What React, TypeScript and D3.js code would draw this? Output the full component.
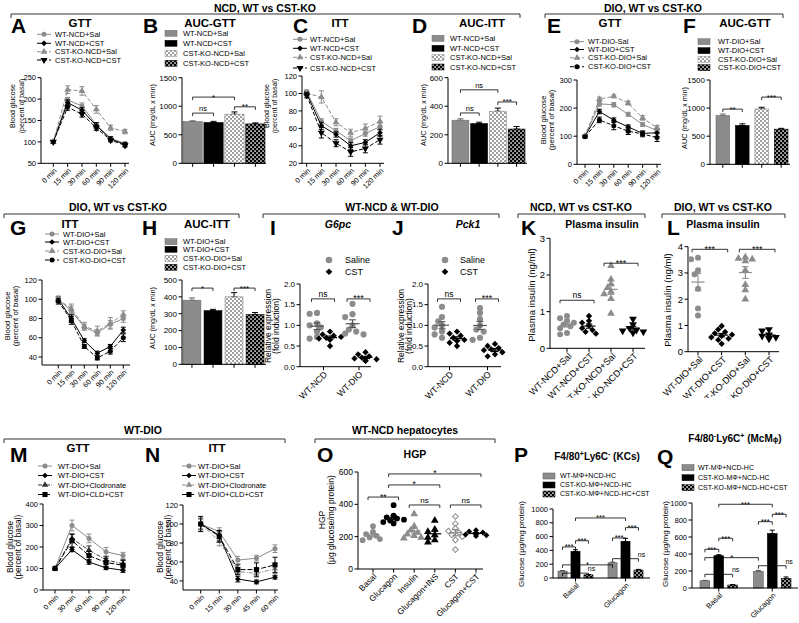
import React from 'react';
import * as d3 from 'd3';

const FONT = "'Liberation Sans', Arial, Helvetica, sans-serif";
const GREY = '#8c8c8c';
const BLACK = '#000000';

/* ===================== DATA ===================== */
const timesGTT6 = ['0 min', '15 min', '30 min', '60 min', '90 min', '120 min'];
const timesGTT5 = ['0 min', '30 min', '60 min', '90 min', '120 min'];
const timesITT5 = ['0 min', '15 min', '30 min', '45 min', '60 min'];

const legendNCD = ['WT-NCD+Sal', 'WT-NCD+CST', 'CST-KO-NCD+Sal', 'CST-KO-NCD+CST'];
const legendDIOE = ['WT-DIO-Sal', 'WT-DIO+CST', 'CST-KO-DIO+Sal', 'CST-KO-DIO+CST'];
const legendDIO = ['WT-DIO+Sal', 'WT-DIO+CST', 'CST-KO-DIO+Sal', 'CST-KO-DIO+CST'];
const legendCLD = ['WT-DIO+Sal', 'WT-DIO+CST', 'WT-DIO+Clodronate', 'WT-DIO+CLD+CST'];
const legendMac = ['WT-MΦ+NCD-HC', 'CST-KO-MΦ+NCD-HC', 'CST-KO-MΦ+NCD-HC+CST'];

// A: NCD GTT
const aWtSal = [100, 198, 184, 140, 108, 96];
const aWtSalErr = [3, 6, 7, 5, 4, 4];
const aWtCst = [100, 192, 174, 138, 107, 94];
const aWtCstErr = [3, 6, 6, 7, 5, 4];
const aKoSal = [100, 222, 219, 176, 133, 124];
const aKoSalErr = [3, 9, 10, 9, 6, 5];
const aKoCst = [100, 181, 165, 133, 104, 92];
const aKoCstErr = [3, 7, 7, 6, 4, 4];

// C: NCD ITT
const cWtSal = [102, 68, 57, 46, 54, 62];
const cWtSalErr = [2, 3, 3, 3, 3, 4];
const cWtCst = [100, 63, 53, 40, 44, 55];
const cWtCstErr = [2, 4, 3, 4, 3, 4];
const cKoSal = [100, 96, 67, 55, 60, 68];
const cKoSalErr = [3, 7, 4, 4, 5, 6];
const cKoCst = [98, 55, 43, 33, 37, 47];
const cKoCstErr = [3, 6, 4, 5, 5, 5];

// E: DIO GTT
const eWtSal = [100, 215, 212, 178, 142, 120];
const eWtSalErr = [4, 8, 8, 7, 7, 8];
const eWtCst = [100, 188, 157, 133, 110, 112];
const eWtCstErr = [4, 8, 8, 7, 8, 14];
const eKoSal = [100, 232, 242, 218, 165, 130];
const eKoSalErr = [4, 7, 5, 7, 8, 8];
const eKoCst = [98, 158, 137, 118, 108, 95];
const eKoCstErr = [4, 10, 14, 12, 10, 14];

// G: DIO ITT
const gWtSal = [100, 88, 71, 65, 74, 80];
const gWtSalErr = [3, 5, 3, 3, 4, 4];
const gWtCst = [100, 80, 57, 44, 51, 68];
const gWtCstErr = [3, 4, 2, 2, 2, 3];
const gKoSal = [100, 90, 72, 67, 75, 84];
const gKoSalErr = [3, 5, 4, 5, 6, 4];
const gKoCst = [98, 78, 51, 39, 46, 60];
const gKoCstErr = [3, 4, 2, 2, 3, 4];

// M: WT-DIO GTT
const mSal = [100, 300, 240, 178, 160];
const mSalErr = [0, 25, 20, 20, 15];
const mCst = [100, 188, 130, 103, 92];
const mCstErr = [0, 10, 10, 8, 10];
const mCld = [100, 240, 185, 140, 122];
const mCldErr = [0, 20, 20, 15, 15];
const mCldCst = [100, 230, 160, 128, 115];
const mCldCstErr = [0, 30, 20, 20, 25];

// N: WT-DIO ITT
const nSal = [100, 92, 62, 64, 74];
const nSalErr = [5, 4, 4, 3, 4];
const nCst = [100, 88, 42, 39, 44];
const nCstErr = [6, 5, 3, 2, 2];
const nCld = [100, 82, 50, 48, 53];
const nCldErr = [6, 5, 4, 4, 5];
const nCldCst = [100, 87, 52, 52, 57];
const nCldCstErr = [8, 6, 5, 7, 8];

// Bars
const bVals = [730, 715, 860, 690];
const bErrs = [15, 20, 40, 18];
const dVals = [302, 278, 365, 240];
const dErrs = [10, 10, 22, 18];
const fVals = [865, 690, 985, 625];
const fErrs = [30, 30, 30, 15];
const hVals = [380, 318, 400, 295];
const hErrs = [14, 8, 25, 12];

const bSigs = [{ a: 0, b: 2, v: 1160, t: '*' }, { a: 0, b: 1, v: 880, t: 'ns' }, { a: 2, b: 3, v: 990, t: '**' }];
const dSigs = [{ a: 0, b: 2, v: 515, t: 'ns' }, { a: 0, b: 1, v: 353, t: 'ns' }, { a: 2, b: 3, v: 430, t: '***' }];
const fSigs = [{ a: 0, b: 1, v: 982, t: '**' }, { a: 2, b: 3, v: 1196, t: '***' }];
const hSigs = [{ a: 0, b: 1, v: 452, t: '*' }, { a: 2, b: 3, v: 452, t: '***' }];

// I: G6pc, J: Pck1
const exprCats = ['WT-NCD', 'WT-DIO'];
const exprLegend = ['Saline', 'CST'];
const iNcdSal = [1.3, 1.28, 1.05, 1.0, 0.95, 0.85, 0.72, 0.68];
const iNcdCst = [0.85, 0.78, 0.75, 0.72, 0.7, 0.68, 0.65, 0.5];
const iDioSal = [1.52, 1.27, 1.2, 1.0, 0.9, 0.85, 0.8, 0.78];
const iDioCst = [0.35, 0.3, 0.25, 0.22, 0.2, 0.18, 0.15, 0.14];
const jNcdSal = [1.45, 1.2, 1.1, 1.0, 0.95, 0.85, 0.78, 0.7];
const jNcdCst = [0.85, 0.8, 0.75, 0.7, 0.65, 0.62, 0.58, 0.5];
const jDioSal = [1.42, 1.3, 1.15, 1.0, 0.9, 0.85, 0.7, 0.65];
const jDioCst = [0.55, 0.5, 0.45, 0.42, 0.4, 0.35, 0.3, 0.25];
const ijSigs = [{ cat: 0, v: 1.64, t: 'ns' }, { cat: 1, v: 1.64, t: '***' }];

// K, L: plasma insulin
const kCats = ['WT-NCD+Sal', 'WT-NCD+CST', 'CST-KO-NCD+Sal', 'CST-KO-NCD+CST'];
const kWtSal = [0.88, 0.82, 0.75, 0.7, 0.65, 0.6, 0.55, 0.42, 0.38];
const kWtCst = [0.88, 0.75, 0.7, 0.62, 0.55, 0.5, 0.45, 0.4];
const kKoSal = [2.25, 1.88, 1.75, 1.65, 1.55, 1.48, 1.35, 0.95];
const kKoCst = [0.8, 0.65, 0.55, 0.5, 0.48, 0.45, 0.42];
const kSigs = [{ a: 0, b: 1, v: 1.31, t: 'ns' }, { a: 2, b: 3, v: 2.32, t: '***' }];
const lCats = ['WT-DIO+Sal', 'WT-DIO+CST', 'CST-KO-DIO+Sal', 'CST-KO-DIO+CST'];
const lWtSal = [3.58, 3.52, 3.1, 2.95, 2.4, 1.65, 1.38];
const lWtCst = [0.98, 0.85, 0.75, 0.7, 0.65, 0.6, 0.55, 0.5, 0.45, 0.3];
const lKoSal = [3.6, 3.55, 3.52, 3.45, 3.1, 2.55, 2.35, 2.0];
const lKoCst = [0.85, 0.8, 0.65, 0.6, 0.55, 0.5, 0.5];
const lSigs = [{ a: 0, b: 1, v: 3.9, t: '***' }, { a: 2, b: 3, v: 3.9, t: '***' }];

// O: HGP
const oCats = ['Basal', 'Glucagon', 'Insulin', 'Glucagon+INS', 'CST', 'Glucagon+CST'];
const oBasal = [265, 230, 215, 205, 195, 185, 178];
const oGlucagon = [395, 330, 320, 312, 305, 300, 290, 282];
const oInsulin = [340, 265, 240, 225, 215, 205, 195, 190];
const oGlucIns = [300, 245, 230, 210, 195, 180, 165];
const oCst = [325, 280, 250, 235, 225, 210, 200, 180, 120];
const oGlucCst = [240, 232, 226, 222, 218, 213, 208, 204];
const oSigs = [
  { a: 0, b: 1, v: 445, t: '**' }, { a: 1, b: 3, v: 520, t: '*' }, { a: 1, b: 5, v: 588, t: '*' },
  { a: 2, b: 3, v: 396, t: 'ns' }, { a: 4, b: 5, v: 396, t: 'ns' },
];

// P, Q: macrophage co-culture
const macGroups = ['Basal', 'Glucagon'];
const pVals = [[100, 385, 45], [220, 530, 115]];
const pErrs = [[8, 25, 5], [10, 45, 10]];
const pSigs = [
  { a: [0, 1], b: [1, 1], v: 870, t: '***' }, { a: [0, 0], b: [0, 1], v: 450, t: '***' },
  { a: [0, 1], b: [0, 2], v: 540, t: '***' }, { a: [0, 0], b: [1, 0], v: 190, t: '*' },
  { a: [0, 0], b: [0, 2], v: 70, t: 'ns', right: true }, { a: [1, 0], b: [1, 2], v: 280, t: 'ns', right: true },
  { a: [1, 0], b: [1, 1], v: 580, t: '***' }, { a: [1, 1], b: [1, 2], v: 730, t: '***' },
];
const qVals = [[85, 380, 35], [195, 640, 110]];
const qErrs = [[5, 12, 5], [12, 40, 20]];
const qSigs = [
  { a: [0, 1], b: [1, 1], v: 985, t: '***' }, { a: [0, 0], b: [0, 1], v: 455, t: '***' },
  { a: [0, 1], b: [0, 2], v: 585, t: '***' }, { a: [0, 0], b: [1, 0], v: 357, t: '*' },
  { a: [0, 0], b: [0, 2], v: 161, t: 'ns', right: true }, { a: [1, 0], b: [1, 2], v: 262, t: 'ns', right: true },
  { a: [1, 0], b: [1, 1], v: 780, t: '***' }, { a: [1, 1], b: [1, 2], v: 867, t: '***' },
];

/* ===================== STYLES ===================== */
type Mk = 'circle' | 'diamond' | 'triUp' | 'triDown' | 'square';
const stGreyCircle = { color: GREY, dash: '', marker: 'circle' as Mk, msize: 20 };
const stBlackDiamond = { color: BLACK, dash: '', marker: 'diamond' as Mk, msize: 16 };
const stGreyTri = { color: GREY, dash: '4,2', marker: 'triUp' as Mk, msize: 20 };
const stBlackTriDown = { color: BLACK, dash: '4,2', marker: 'triDown' as Mk, msize: 22 };
const stBlackCircleDash = { color: BLACK, dash: '4,2', marker: 'circle' as Mk, msize: 20 };
const stDarkTriDashDot = { color: '#333333', dash: '4,1.5,1,1.5', marker: 'triUp' as Mk, msize: 18 };
const stGreyTriDashDot = { color: GREY, dash: '4,1.5,1,1.5', marker: 'triUp' as Mk, msize: 18 };
const stBlackSquareDash = { color: BLACK, dash: '5,2', marker: 'square' as Mk, msize: 26 };

/* ===================== PRIMITIVES ===================== */
const symType: Record<Mk, any> = {
  circle: d3.symbolCircle, diamond: d3.symbolSquare, triUp: d3.symbolTriangle,
  triDown: d3.symbolTriangle, square: d3.symbolSquare,
};
function Marker({ m, x, y, size, fill, stroke }: any) {
  const d = d3.symbol(symType[m as Mk], size)() as string;
  const rot = m === 'triDown' ? ' rotate(180)' : m === 'diamond' ? ' rotate(45)' : '';
  return (
    <path d={d} transform={`translate(${x},${y})${rot}`} fill={fill}
      stroke={stroke || 'none'} strokeWidth={stroke ? 1 : 0} />
  );
}
function ErrBar({ x, y1, y2, w, color, sw = 1 }: any) {
  return (
    <g stroke={color} strokeWidth={sw}>
      <line x1={x} x2={x} y1={y1} y2={y2} />
      <line x1={x - w} x2={x + w} y1={y1} y2={y1} />
      <line x1={x - w} x2={x + w} y1={y2} y2={y2} />
    </g>
  );
}
function Sig({ x1, x2, y, t, fs = 7.5, right = false }: any) {
  const star = t.startsWith('*');
  const tx = right ? x2 + 3 : (x1 + x2) / 2;
  return (
    <g>
      <path d={`M${x1},${y + 3}V${y}H${x2}V${y + 3}`} fill="none" stroke={BLACK} strokeWidth={0.8} />
      <text x={tx} y={star ? y + 2.5 : y - 2} textAnchor="middle" fontSize={star ? fs + 0.5 : fs}>{t}</text>
    </g>
  );
}
function Letter({ x, y, t }: any) {
  return <text x={x} y={y} fontSize={21} fontWeight="bold">{t}</text>;
}
function Title({ x, y, t, fs = 11.5, italic = false }: any) {
  return <text x={x} y={y} textAnchor="middle" fontSize={fs} fontWeight="bold" fontStyle={italic ? 'italic' : 'normal'}>{t}</text>;
}
function YLabel({ lines, xs, cy, fs }: any) {
  return (
    <g>
      {lines.map((l: string, i: number) => (
        <text key={i} transform={`translate(${xs[i]},${cy}) rotate(-90)`} textAnchor="middle" dy="0.35em" fontSize={fs}>{l}</text>
      ))}
    </g>
  );
}
function YAxis({ x, y, ticks, fs, fmt }: any) {
  const [r0, r1] = y.range();
  const f = fmt ? d3.format(fmt) : (v: number) => String(v);
  return (
    <g>
      <line x1={x} x2={x} y1={r0} y2={r1} stroke={BLACK} strokeWidth={1} />
      {ticks.map((t: number) => (
        <g key={t}>
          <line x1={x - 3.5} x2={x} y1={y(t)} y2={y(t)} stroke={BLACK} strokeWidth={1} />
          <text x={x - 5} y={y(t)} dy="0.35em" textAnchor="end" fontSize={fs}>{f(t)}</text>
        </g>
      ))}
    </g>
  );
}
function RotLabels({ items, yb, fs, dx = 2, dy = 6 }: any) {
  return (
    <g>
      {items.map((it: any, i: number) => (
        <text key={i} transform={`translate(${it.x + dx},${yb + dy}) rotate(-45)`} textAnchor="end" dy="0.35em" fontSize={fs}>{it.t}</text>
      ))}
    </g>
  );
}
function Header({ t, cx, ty, x1, x2, ly }: any) {
  return (
    <g>
      <text x={cx} y={ty} textAnchor="middle" fontSize={10.5} fontWeight="bold">{t}</text>
      <path d={`M${x1},${ly + 4}V${ly}H${x2}V${ly + 4}`} fill="none" stroke="#333" strokeWidth={1} />
    </g>
  );
}

/* ===================== LINE PANEL ===================== */
function LinePanel({ L, cats, series }: any) {
  const y = d3.scaleLinear().domain(L.yDomain).range([L.yBottom, L.yTop]);
  const x = d3.scalePoint<string>().domain(cats).range([L.x0, L.x1]);
  const lineGen = d3.line<number>().x((_, i) => x(cats[i]) as number).y((d) => y(d));
  return (
    <g>
      <Letter x={L.letterX} y={L.letterY} t={L.letter} />
      <Title x={L.titleX} y={L.titleY} t={L.title} />
      {series.map((s: any, i: number) => {
        const ly = L.legRows[i];
        return (
          <g key={'lg' + i}>
            <line x1={L.legX} x2={L.legX + 14} y1={ly} y2={ly} stroke={s.color} strokeDasharray={s.dash} strokeWidth={1} />
            <Marker m={s.marker} x={L.legX + 7} y={ly} size={s.msize} fill={s.color} />
            <text x={L.legTextX} y={ly} dy="0.35em" fontSize={L.legFs}>{s.label}</text>
          </g>
        );
      })}
      <YLabel lines={L.ylab} xs={L.ylabX} cy={L.ylabY} fs={L.ylabFs} />
      <YAxis x={L.axisX} y={y} ticks={L.yTicks} fs={L.tickFs} />
      <line x1={L.axisX} x2={L.xEnd} y1={L.yBottom} y2={L.yBottom} stroke={BLACK} strokeWidth={1} />
      {cats.map((c: string) => (
        <line key={c} x1={x(c)} x2={x(c)} y1={L.yBottom} y2={L.yBottom + 3.5} stroke={BLACK} strokeWidth={1} />
      ))}
      <RotLabels items={cats.map((c: string) => ({ x: x(c) as number, t: c }))} yb={L.yBottom} fs={L.xlabFs} />
      {series.map((s: any, i: number) => (
        <g key={'s' + i}>
          <path d={lineGen(s.values) as string} fill="none" stroke={s.color} strokeDasharray={s.dash} strokeWidth={1} />
          {s.values.map((v: number, j: number) => (
            <g key={j}>
              {s.errs[j] > 0 && <ErrBar x={x(cats[j])} y1={y(v - s.errs[j])} y2={y(v + s.errs[j])} w={2.5} color={s.color} />}
              <Marker m={s.marker} x={x(cats[j])} y={y(v)} size={s.msize} fill={s.color} />
            </g>
          ))}
        </g>
      ))}
    </g>
  );
}

/* ===================== BAR PANEL ===================== */
const barFills = [GREY, BLACK, 'url(#chkLight)', 'url(#chkDark)'];
const barStrokes = ['#6a6a6a', BLACK, '#8a8a8a', BLACK];
function BarPanel({ L, labels, values, errs, sigs }: any) {
  const y = d3.scaleLinear().domain([0, L.yMax]).range([L.yBottom, L.yTop]);
  const x = d3.scaleBand<string>().domain(labels).range([L.bx0, L.bx1]).paddingInner(L.pad);
  const bw = x.bandwidth();
  const cx = (i: number) => (x(labels[i]) as number) + bw / 2;
  return (
    <g>
      <Letter x={L.letterX} y={L.letterY} t={L.letter} />
      <Title x={L.titleX} y={L.titleY} t={L.title} />
      {labels.map((l: string, i: number) => (
        <g key={'lg' + i}>
          <rect x={L.legSwX} y={L.legRows[i] - 3} width={12} height={6} fill={barFills[i]} stroke={barStrokes[i]} strokeWidth={0.5} />
          <text x={L.legTextX} y={L.legRows[i]} dy="0.35em" fontSize={7.5}>{l}</text>
        </g>
      ))}
      <YLabel lines={[L.ylab]} xs={[L.ylabX]} cy={L.ylabY} fs={7.3} />
      {values.map((v: number, i: number) => (
        <g key={'b' + i}>
          <ErrBar x={cx(i)} y1={y(v)} y2={y(v + errs[i])} w={3} color={i === 0 ? '#6a6a6a' : BLACK} />
          <rect x={x(labels[i])} y={y(v)} width={bw} height={L.yBottom - y(v)} fill={barFills[i]} stroke={barStrokes[i]} strokeWidth={0.6} />
        </g>
      ))}
      <YAxis x={L.axisX} y={y} ticks={L.yTicks} fs={8} />
      <line x1={L.axisX} x2={L.xEnd} y1={L.yBottom} y2={L.yBottom} stroke={BLACK} strokeWidth={1} />
      {labels.map((l: string, i: number) => (
        <line key={'t' + i} x1={cx(i)} x2={cx(i)} y1={L.yBottom} y2={L.yBottom + 3.5} stroke={BLACK} strokeWidth={1} />
      ))}
      {sigs.map((s: any, i: number) => (
        <Sig key={'sg' + i} x1={cx(s.a)} x2={cx(s.b)} y={y(s.v)} t={s.t} />
      ))}
    </g>
  );
}

/* ===================== SCATTER PANEL ===================== */
function swarm(vals: number[], y: any, r: number): number[] {
  const placed: { x: number; y: number }[] = [];
  const cands = [0, -1, 1, -2, 2, -3, 3];
  return vals.map((v) => {
    const py = y(v);
    for (const c of cands) {
      const px = c * r * 1.15;
      if (placed.every((p) => Math.hypot(p.x - px, p.y - py) >= r * 1.5)) {
        placed.push({ x: px, y: py });
        return px;
      }
    }
    placed.push({ x: 0, y: py });
    return 0;
  });
}
function ScatterPanel({ L, cats, groups, sigs, legend, catLabels }: any) {
  const y = d3.scaleLinear().domain(L.yDomain).range([L.yBottom, L.yTop]);
  const x = d3.scalePoint<string>().domain(cats).range([L.px0, L.px1]);
  return (
    <g>
      <Letter x={L.letterX} y={L.letterY} t={L.letter} />
      <Title x={L.titleX} y={L.titleY} t={L.title} italic={L.italic} fs={L.titleFs} />
      {legend && legend.map((lg: any, i: number) => (
        <g key={'lg' + i}>
          <Marker m={lg.marker} x={L.legSymX} y={L.legRows[i]} size={lg.msize} fill={lg.color} />
          <text x={L.legTextX} y={L.legRows[i]} dy="0.35em" fontSize={L.fs}>{lg.label}</text>
        </g>
      ))}
      <YLabel lines={L.ylab} xs={L.ylabX} cy={L.ylabY} fs={L.ylabFs} />
      <YAxis x={L.axisX} y={y} ticks={L.yTicks} fs={L.tickFs || L.fs} fmt={L.fmt} />
      <line x1={L.axisX} x2={L.xEnd} y1={L.yBottom} y2={L.yBottom} stroke={BLACK} strokeWidth={1} />
      {cats.map((c: string) => (
        <line key={c} x1={x(c)} x2={x(c)} y1={L.yBottom} y2={L.yBottom + 3.5} stroke={BLACK} strokeWidth={1} />
      ))}
      <g clipPath={L.clip ? `url(#${L.clip})` : undefined}>
        <RotLabels items={cats.map((c: string, i: number) => ({ x: x(c) as number, t: catLabels ? catLabels[i] : c }))} yb={L.yBottom} fs={L.xlabFs} dx={L.xlabDx} />
      </g>
      {groups.map((g: any, gi: number) => {
        const gx = (x(g.cat) as number) + g.off;
        const sorted = [...g.values].sort((a: number, b: number) => b - a);
        const offs = swarm(sorted, y, L.pr);
        const mean = d3.mean(g.values) as number;
        const sem = (d3.deviation(g.values) as number) / Math.sqrt(g.values.length);
        return (
          <g key={'g' + gi}>
            {sorted.map((v: number, k: number) => (
              <Marker key={k} m={g.marker} x={gx + offs[k]} y={y(v)} size={g.msize} fill={g.fill} stroke={g.stroke} />
            ))}
            <line x1={gx - L.meanW} x2={gx + L.meanW} y1={y(mean)} y2={y(mean)} stroke={g.lineColor} strokeWidth={1.2} />
            <ErrBar x={gx} y1={y(mean - sem)} y2={y(mean + sem)} w={L.meanW * 0.5} color={g.lineColor} sw={1.1} />
          </g>
        );
      })}
      {sigs.map((s: any, i: number) => (
        <Sig key={'sg' + i} x1={s.x1fn(x)} x2={s.x2fn(x)} y={y(s.v)} t={s.t} fs={L.sigFs} />
      ))}
    </g>
  );
}

/* ===================== GROUPED BAR PANEL ===================== */
const macFills = [GREY, BLACK, 'url(#chkDark)'];
const macStrokes = ['#555555', BLACK, BLACK];
function GroupBarPanel({ L, groups, subs, values, errs, sigs, title }: any) {
  const y = d3.scaleLinear().domain([0, L.yMax]).range([L.yBottom, L.yTop]);
  const xg = d3.scaleBand<string>().domain(groups).range([L.gx0, L.gx1]).paddingInner(L.gPadIn).paddingOuter(L.gPadOut);
  const xs = d3.scaleBand<string>().domain(subs).range([0, xg.bandwidth()]).paddingInner(L.subPad);
  const bw = xs.bandwidth();
  const cx = (gi: number, si: number) => (xg(groups[gi]) as number) + (xs(subs[si]) as number) + bw / 2;
  return (
    <g>
      <Letter x={L.letterX} y={L.letterY} t={L.letter} />
      {title}
      {subs.map((l: string, i: number) => (
        <g key={'lg' + i}>
          <rect x={L.legSwX} y={L.legRows[i] - 3} width={12} height={6} fill={macFills[i]} stroke={macStrokes[i]} strokeWidth={0.5} />
          <text x={L.legTextX} y={L.legRows[i]} dy="0.35em" fontSize={7}>{l}</text>
        </g>
      ))}
      <YLabel lines={[L.ylab]} xs={[L.ylabX]} cy={L.ylabY} fs={8} />
      {values.map((row: number[], gi: number) => row.map((v: number, si: number) => (
        <g key={gi + '-' + si}>
          <ErrBar x={cx(gi, si)} y1={y(v)} y2={y(v + errs[gi][si])} w={2.5} color={si === 0 ? '#555' : BLACK} />
          <rect x={cx(gi, si) - bw / 2} y={y(v)} width={bw} height={L.yBottom - y(v)} fill={macFills[si]} stroke={macStrokes[si]} strokeWidth={0.6} />
        </g>
      )))}
      <YAxis x={L.axisX} y={y} ticks={L.yTicks} fs={7.5} />
      <line x1={L.axisX} x2={L.xEnd} y1={L.yBottom} y2={L.yBottom} stroke={BLACK} strokeWidth={1} />
      {groups.map((g: string) => {
        const gc = (xg(g) as number) + xg.bandwidth() / 2;
        return <line key={g} x1={gc} x2={gc} y1={L.yBottom} y2={L.yBottom + 3.5} stroke={BLACK} strokeWidth={1} />;
      })}
      <RotLabels items={groups.map((g: string) => ({ x: (xg(g) as number) + xg.bandwidth() / 2, t: g }))} yb={L.yBottom} fs={7.5} />
      {sigs.map((s: any, i: number) => (
        <Sig key={'sg' + i} x1={cx(s.a[0], s.a[1])} x2={cx(s.b[0], s.b[1])} y={y(s.v)} t={s.t} fs={7} right={s.right} />
      ))}
    </g>
  );
}

/* ===================== LAYOUTS ===================== */
const lineBase = { tickFs: 7.5, legFs: 7.5, xlabFs: 7.2 };
const LA = { ...lineBase, axisX: 41, yTop: 77.7, yBottom: 163.3, yDomain: [50, 250], yTicks: [50, 100, 150, 200, 250], x0: 53.3, x1: 125, xEnd: 129, legX: 37, legTextX: 55, legRows: [34.3, 43.3, 51.7, 60], title: 'GTT', titleX: 80, titleY: 26.5, letter: 'A', letterX: 11, letterY: 33, ylab: ['Blood glucose', '(percent of basal)'], ylabX: [13, 21.5], ylabY: 106, ylabFs: 7 };
const LC = { ...lineBase, axisX: 302, yTop: 76, yBottom: 163.3, yDomain: [20, 120], yTicks: [20, 40, 60, 80, 100, 120], x0: 306.7, x1: 380, xEnd: 384, legX: 293, legTextX: 310, legRows: [39.3, 48.3, 57.3, 68], title: 'ITT', titleX: 340, titleY: 26.5, letter: 'C', letterX: 293, letterY: 33, ylab: ['Blood glucose', '(percent of basal)'], ylabX: [266.5, 274.5], ylabY: 106, ylabFs: 7 };
const LE = { ...lineBase, axisX: 577, yTop: 80, yBottom: 164.3, yDomain: [0, 300], yTicks: [0, 100, 200, 300], x0: 585, x1: 657, xEnd: 661, legX: 570, legTextX: 588, legRows: [41.7, 49.5, 57.8, 66.7], title: 'GTT', titleX: 610, titleY: 26.5, letter: 'E', letterX: 547, letterY: 33, ylab: ['Blood glucose', '(percent of basal)'], ylabX: [543, 551], ylabY: 120, ylabFs: 7.8 };
const LG = { ...lineBase, axisX: 42, yTop: 280, yBottom: 365, yDomain: [31.7, 120], yTicks: [40, 60, 80, 100, 120], x0: 58.3, x1: 123.3, xEnd: 130, legX: 45, legTextX: 63, legRows: [234, 242, 251, 260], title: 'ITT', titleX: 70, titleY: 228, letter: 'G', letterX: 10, letterY: 235, ylab: ['Blood glucose', '(percent of basal)'], ylabX: [7, 15.5], ylabY: 316, ylabFs: 7.8 };
const LM = { ...lineBase, axisX: 43, yTop: 504, yBottom: 590, yDomain: [0, 400], yTicks: [0, 100, 200, 300, 400], x0: 55, x1: 123, xEnd: 130, legX: 38, legTextX: 58, legRows: [466, 475.5, 485, 494.5], title: 'GTT', titleX: 78, titleY: 452, letter: 'M', letterX: 10, letterY: 462, ylab: ['Blood glucose', '(percent of basal)'], ylabX: [10, 18.5], ylabY: 547, ylabFs: 8.3 };
const LN = { ...lineBase, axisX: 183, yTop: 505, yBottom: 590, yDomain: [30.5, 120], yTicks: [40, 60, 80, 100, 120], x0: 200.7, x1: 275, xEnd: 278, legX: 182, legTextX: 198, legRows: [466, 475.5, 485, 494.5], title: 'ITT', titleX: 217, titleY: 452, letter: 'N', letterX: 145, letterY: 462, ylab: ['Blood glucose', '(percent of basal)'], ylabX: [160, 168.5], ylabY: 547, ylabFs: 8.3 };

const LB = { axisX: 182, yTop: 77.7, yBottom: 163.3, yMax: 1500, yTicks: [0, 500, 1000, 1500], bx0: 183, bx1: 265, pad: 0.08, xEnd: 266, legSwX: 165, legTextX: 183, legRows: [33.3, 43.3, 53.3, 63.3], title: 'AUC-GTT', titleX: 210, titleY: 26.5, letter: 'B', letterX: 143, letterY: 33, ylab: 'AUC (mg/dL x min)', ylabX: 152, ylabY: 115 };
const LD = { axisX: 448, yTop: 77.7, yBottom: 163.3, yMax: 600, yTicks: [0, 200, 400, 600], bx0: 452, bx1: 525, pad: 0.1, xEnd: 527, legSwX: 432, legTextX: 450, legRows: [38.3, 48.3, 57.7, 67], title: 'AUC-ITT', titleX: 482, titleY: 26.5, letter: 'D', letterX: 412, letterY: 33, ylab: 'AUC (mg/dL x min)', ylabX: 423, ylabY: 115 };
const LF = { axisX: 710, yTop: 80, yBottom: 164.3, yMax: 1500, yTicks: [0, 500, 1000, 1500], bx0: 716, bx1: 788, pad: 0.3, xEnd: 790, legSwX: 698, legTextX: 718, legRows: [41.7, 50.7, 59.3, 67.7], title: 'AUC-GTT', titleX: 745, titleY: 26.5, letter: 'F', letterX: 683, letterY: 33, ylab: 'AUC (mg/dL x min)', ylabX: 684, ylabY: 118 };
const LH = { axisX: 182, yTop: 280, yBottom: 364.3, yMax: 500, yTicks: [0, 100, 200, 300, 400, 500], bx0: 183, bx1: 264, pad: 0.15, xEnd: 266, legSwX: 165, legTextX: 183, legRows: [241.7, 249.3, 258.3, 267.3], title: 'AUC-ITT', titleX: 207, titleY: 228, letter: 'H', letterX: 142, letterY: 235, ylab: 'AUC (mg/dL x min)', ylabX: 152, ylabY: 318 };

const scBase = { pr: 3.2, meanW: 7, sigFs: 8.5 };
const LI = { ...scBase, axisX: 300, yTop: 284, yBottom: 366.7, yDomain: [0, 2], yTicks: [0, 0.5, 1, 1.5, 2], fmt: '.1f', px0: 323.5, px1: 359, xEnd: 371, title: 'G6pc', italic: true, titleFs: 10.5, titleX: 338, titleY: 228, letter: 'I', letterX: 270, letterY: 235, ylab: ['Relative expression', '(fold induction)'], ylabX: [268, 276.5], ylabY: 326, ylabFs: 8.5, legSymX: 329, legTextX: 345, legRows: [260, 271.7], fs: 9, tickFs: 8, xlabFs: 8.8, xlabDx: 2 };
const LJ = { ...LI, axisX: 428, px0: 449.5, px1: 487.5, xEnd: 501, title: 'Pck1', titleX: 468, letter: 'J', letterX: 392, ylabX: [401, 409.5], legSymX: 445, legTextX: 460 };
const LK = { ...scBase, pr: 3, meanW: 6.5, axisX: 550, yTop: 238.3, yBottom: 348.3, yDomain: [0, 3], yTicks: [0, 1, 2, 3], px0: 567, px1: 633, xEnd: 645, title: 'Plasma insulin', italic: false, titleFs: 10.5, titleX: 602, titleY: 228, letter: 'K', letterX: 521, letterY: 235, ylab: ['Plasma insulin (ng/ml)'], ylabX: [532], ylabY: 295, ylabFs: 9.5, fs: 9.5, xlabFs: 9.2, xlabDx: 3, clip: 'rowclip' };
const LL = { ...LK, axisX: 688, yTop: 246.7, yBottom: 351.7, yDomain: [0, 4], yTicks: [0, 1, 2, 3, 4], px0: 698, px1: 769, xEnd: 779, titleX: 723, letter: 'L', letterX: 667, ylabX: [668], ylabY: 300 };
const LO = { ...scBase, pr: 3, meanW: 6.5, sigFs: 8, axisX: 358, yTop: 472, yBottom: 569, yDomain: [0, 600], yTicks: [0, 200, 400, 600], px0: 373, px1: 476, xEnd: 483, title: 'HGP', italic: false, titleFs: 10.5, titleX: 415, titleY: 458, letter: 'O', letterX: 317, letterY: 462, ylab: ['HGP', '(μg glucose/mg protein)'], ylabX: [322, 331], ylabY: 520, ylabFs: 8.5, fs: 8.5, xlabFs: 8.3, xlabDx: 2 };

const LP = { axisX: 553, yTop: 509, yBottom: 578, yMax: 1000, yTicks: [0, 200, 400, 600, 800, 1000], gx0: 553, gx1: 648, gPadIn: 0.3, gPadOut: 0.1, subPad: 0.3, xEnd: 650, legSwX: 543, legTextX: 560, legRows: [476, 485, 494], letter: 'P', letterX: 514, letterY: 462, ylab: 'Glucose (μg/mg protein)', ylabX: 521, ylabY: 544 };
const LQ = { axisX: 692, yTop: 503, yBottom: 588, yMax: 1000, yTicks: [0, 200, 400, 600, 800, 1000], gx0: 692, gx1: 799, gPadIn: 0.3, gPadOut: 0.15, subPad: 0.3, xEnd: 798, legSwX: 682, legTextX: 698, legRows: [467.7, 477.7, 487.7], letter: 'Q', letterX: 657, letterY: 464, ylab: 'Glucose (μg/mg protein)', ylabX: 665, ylabY: 544 };

const headers = [
  { t: 'NCD, WT vs CST-KO', cx: 265, ty: 11.5, x1: 11, x2: 520, ly: 14 },
  { t: 'DIO, WT vs CST-KO', cx: 653, ty: 11.5, x1: 545, x2: 783, ly: 14 },
  { t: 'DIO, WT vs CST-KO', cx: 118, ty: 211, x1: 4, x2: 239, ly: 214 },
  { t: 'WT-NCD & WT-DIO', cx: 392, ty: 211, x1: 263, x2: 499, ly: 214 },
  { t: 'NCD, WT vs CST-KO', cx: 581, ty: 211, x1: 518, x2: 645, ly: 214 },
  { t: 'DIO, WT vs CST-KO', cx: 723, ty: 211, x1: 662, x2: 785, ly: 214 },
  { t: 'WT-DIO', cx: 143, ty: 434, x1: 4, x2: 285, ly: 439 },
  { t: 'WT-NCD hepatocytes', cx: 405, ty: 434, x1: 315, x2: 495, ly: 439 },
];

/* ===================== BUILDERS ===================== */
const mk = (labels: string[], vals: number[][], errs: number[][], styles: any[]) =>
  labels.map((label, i) => ({ label, values: vals[i], errs: errs[i], ...styles[i] }));

const ncdStyles = [stGreyCircle, stBlackDiamond, stGreyTri, stBlackTriDown];
const dioStyles = [stGreyCircle, stBlackDiamond, stGreyTri, stBlackCircleDash];
const cldStylesM = [stGreyCircle, stBlackDiamond, stDarkTriDashDot, stBlackSquareDash];
const cldStylesN = [stGreyCircle, stBlackDiamond, stGreyTriDashDot, stBlackSquareDash];

const expLegend = [
  { label: exprLegend[0], marker: 'circle', msize: 34, color: GREY },
  { label: exprLegend[1], marker: 'diamond', msize: 22, color: BLACK },
];
const exprGroups = (ncdS: number[], ncdC: number[], dioS: number[], dioC: number[], off: number) => [
  { cat: exprCats[0], off: -off, values: ncdS, marker: 'circle', msize: 30, fill: GREY, lineColor: '#555' },
  { cat: exprCats[0], off: off, values: ncdC, marker: 'diamond', msize: 20, fill: BLACK, lineColor: BLACK },
  { cat: exprCats[1], off: -off, values: dioS, marker: 'circle', msize: 30, fill: GREY, lineColor: '#555' },
  { cat: exprCats[1], off: off, values: dioC, marker: 'diamond', msize: 20, fill: BLACK, lineColor: BLACK },
];
const ijSigDefs = ijSigs.map((s) => ({ ...s, x1fn: (x: any) => x(exprCats[s.cat]) - 12, x2fn: (x: any) => x(exprCats[s.cat]) + 11 }));
const pairSig = (cats: string[], sigs: any[], l: number, r: number) =>
  sigs.map((s) => ({ ...s, x1fn: (x: any) => x(cats[s.a]) - l, x2fn: (x: any) => x(cats[s.b]) + r }));

const insulinGroups = (cats: string[], a: number[], b: number[], c: number[], d: number[]) => [
  { cat: cats[0], off: 0, values: a, marker: 'circle', msize: 28, fill: GREY, lineColor: GREY },
  { cat: cats[1], off: 0, values: b, marker: 'diamond', msize: 20, fill: BLACK, lineColor: BLACK },
  { cat: cats[2], off: 0, values: c, marker: 'triUp', msize: 26, fill: GREY, lineColor: GREY },
  { cat: cats[3], off: 0, values: d, marker: 'triDown', msize: 26, fill: BLACK, lineColor: BLACK },
];
const hgpGroups = [
  { cat: oCats[0], off: 0, values: oBasal, marker: 'circle', msize: 26, fill: GREY, lineColor: GREY },
  { cat: oCats[1], off: 0, values: oGlucagon, marker: 'circle', msize: 26, fill: BLACK, lineColor: BLACK },
  { cat: oCats[2], off: 0, values: oInsulin, marker: 'triUp', msize: 26, fill: GREY, lineColor: GREY },
  { cat: oCats[3], off: 0, values: oGlucIns, marker: 'triUp', msize: 26, fill: BLACK, lineColor: BLACK },
  { cat: oCats[4], off: 0, values: oCst, marker: 'diamond', msize: 16, fill: '#fff', stroke: GREY, lineColor: GREY },
  { cat: oCats[5], off: 0, values: oGlucCst, marker: 'diamond', msize: 18, fill: BLACK, lineColor: BLACK },
];

export default function App() {
  const titleP = (
    <text x={597} y={460} textAnchor="middle" fontSize={10} fontWeight="bold">
      F4/80<tspan dy={-4} fontSize={7}>+</tspan><tspan dy={4}>Ly6C</tspan><tspan dy={-4} fontSize={7}>-</tspan><tspan dy={4}> (KCs)</tspan>
    </text>
  );
  const titleQ = (
    <text x={735} y={442} textAnchor="middle" fontSize={10} fontWeight="bold">
      F4/80<tspan dy={-4} fontSize={7}>-</tspan><tspan dy={4}>Ly6C</tspan><tspan dy={-4} fontSize={7}>+</tspan><tspan dy={4}> (McM</tspan><tspan fontSize={7.5}>ϕ</tspan><tspan>)</tspan>
    </text>
  );
  return (
    <svg width={799} height={623} viewBox="0 0 799 623" fontFamily={FONT}
      style={{ position: 'absolute', left: 0, top: 0, background: '#ffffff' }}>
      <defs>
        <pattern id="chkLight" width={4} height={4} patternUnits="userSpaceOnUse">
          <rect width={4} height={4} fill="#ffffff" />
          <rect x={0} y={0} width={2} height={2} fill="#a0a0a0" />
          <rect x={2} y={2} width={2} height={2} fill="#a0a0a0" />
        </pattern>
        <pattern id="chkDark" width={4} height={4} patternUnits="userSpaceOnUse">
          <rect width={4} height={4} fill="#000000" />
          <rect x={0.3} y={0.3} width={1.5} height={1.5} fill="#ffffff" />
          <rect x={2.3} y={2.3} width={1.5} height={1.5} fill="#ffffff" />
        </pattern>
        <clipPath id="rowclip"><rect x={0} y={0} width={799} height={398} /></clipPath>
      </defs>
      <rect width={799} height={623} fill="#ffffff" />
      {headers.map((h, i) => <Header key={i} {...h} />)}

      <LinePanel L={LA} cats={timesGTT6} series={mk(legendNCD, [aWtSal, aWtCst, aKoSal, aKoCst], [aWtSalErr, aWtCstErr, aKoSalErr, aKoCstErr], ncdStyles)} />
      <BarPanel L={LB} labels={legendNCD} values={bVals} errs={bErrs} sigs={bSigs} />
      <LinePanel L={LC} cats={timesGTT6} series={mk(legendNCD, [cWtSal, cWtCst, cKoSal, cKoCst], [cWtSalErr, cWtCstErr, cKoSalErr, cKoCstErr], ncdStyles)} />
      <BarPanel L={LD} labels={legendNCD} values={dVals} errs={dErrs} sigs={dSigs} />
      <LinePanel L={LE} cats={timesGTT6} series={mk(legendDIOE, [eWtSal, eWtCst, eKoSal, eKoCst], [eWtSalErr, eWtCstErr, eKoSalErr, eKoCstErr], dioStyles)} />
      <BarPanel L={LF} labels={legendDIO} values={fVals} errs={fErrs} sigs={fSigs} />

      <LinePanel L={LG} cats={timesGTT6} series={mk(legendDIO, [gWtSal, gWtCst, gKoSal, gKoCst], [gWtSalErr, gWtCstErr, gKoSalErr, gKoCstErr], dioStyles)} />
      <BarPanel L={LH} labels={legendDIO} values={hVals} errs={hErrs} sigs={hSigs} />
      <ScatterPanel L={LI} cats={exprCats} groups={exprGroups(iNcdSal, iNcdCst, iDioSal, iDioCst, 6.5)} sigs={ijSigDefs} legend={expLegend} />
      <ScatterPanel L={LJ} cats={exprCats} groups={exprGroups(jNcdSal, jNcdCst, jDioSal, jDioCst, 7.5)} sigs={ijSigDefs} legend={expLegend} />
      <ScatterPanel L={LK} cats={kCats} groups={insulinGroups(kCats, kWtSal, kWtCst, kKoSal, kKoCst)} sigs={pairSig(kCats, kSigs, 7, 5)} />
      <ScatterPanel L={LL} cats={lCats} groups={insulinGroups(lCats, lWtSal, lWtCst, lKoSal, lKoCst)} sigs={pairSig(lCats, lSigs, 6, 6)} />

      <LinePanel L={LM} cats={timesGTT5} series={mk(legendCLD, [mSal, mCst, mCld, mCldCst], [mSalErr, mCstErr, mCldErr, mCldCstErr], cldStylesM)} />
      <LinePanel L={LN} cats={timesITT5} series={mk(legendCLD, [nSal, nCst, nCld, nCldCst], [nSalErr, nCstErr, nCldErr, nCldCstErr], cldStylesN)} />
      <ScatterPanel L={LO} cats={oCats} groups={hgpGroups} sigs={pairSig(oCats, oSigs, 5, 5)} />
      <GroupBarPanel L={LP} groups={macGroups} subs={legendMac} values={pVals} errs={pErrs} sigs={pSigs} title={titleP} />
      <GroupBarPanel L={LQ} groups={macGroups} subs={legendMac} values={qVals} errs={qErrs} sigs={qSigs} title={titleQ} />
    </svg>
  );
}
